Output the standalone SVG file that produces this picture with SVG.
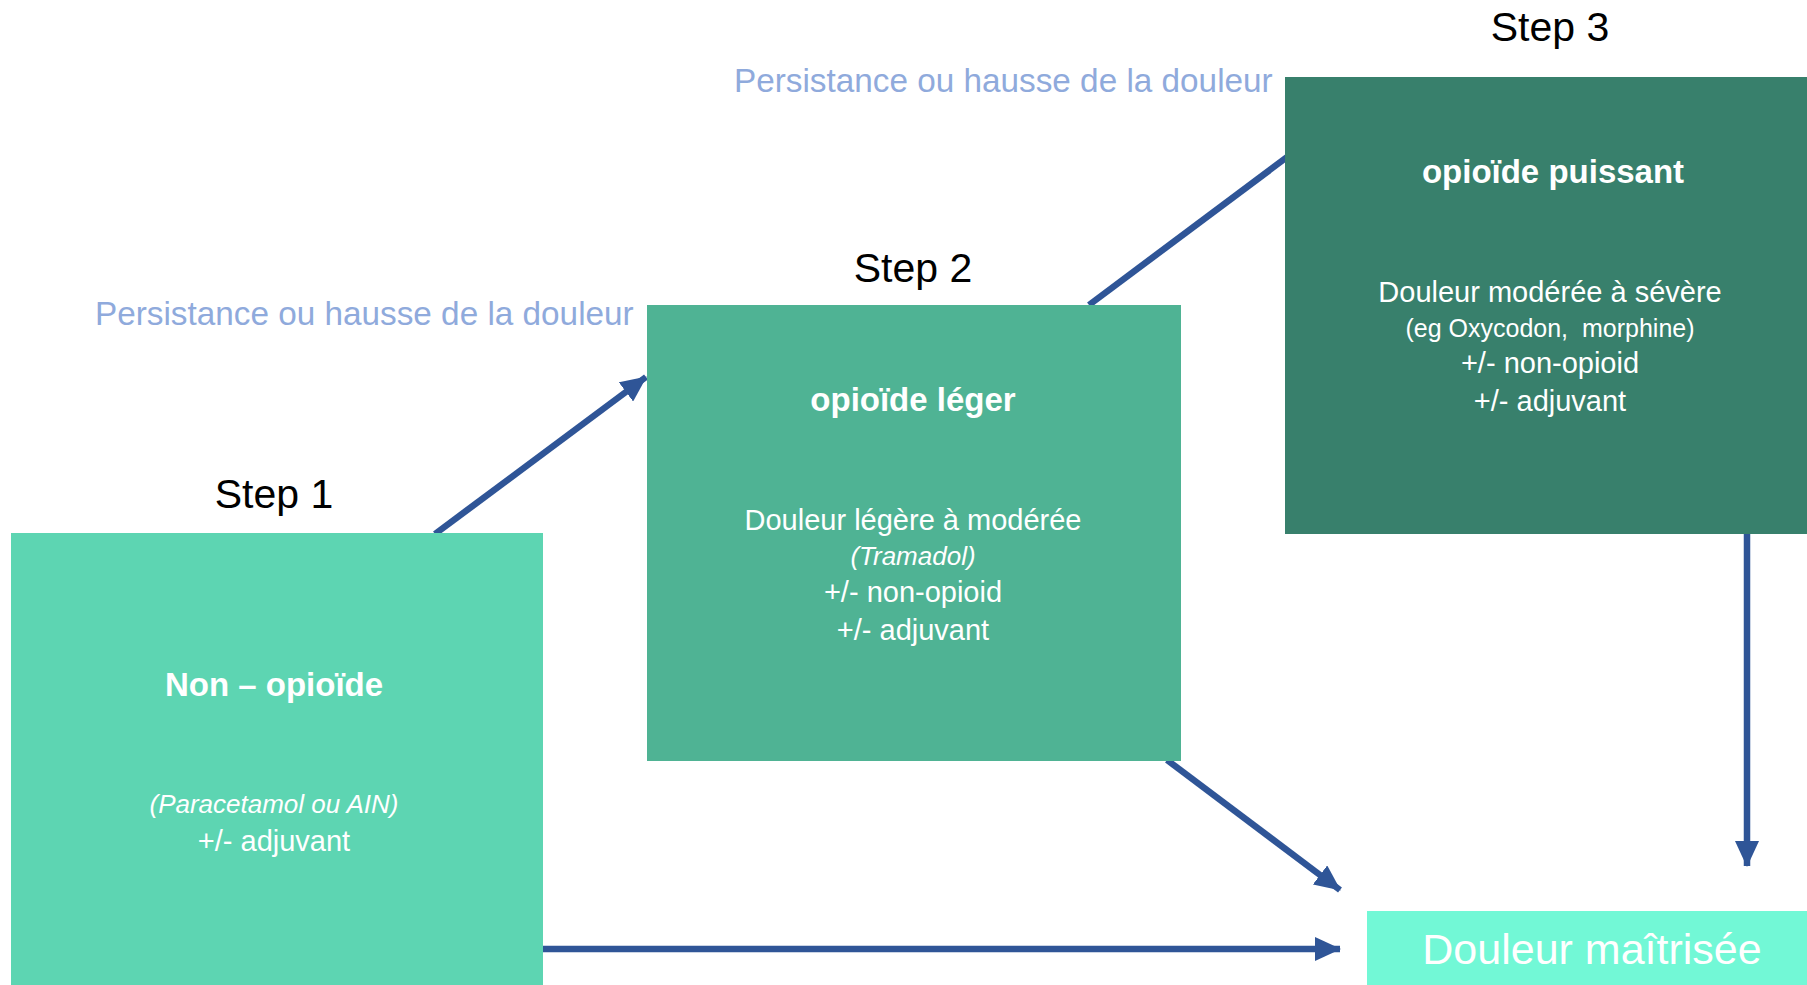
<svg xmlns="http://www.w3.org/2000/svg" width="1807" height="985" viewBox="0 0 1807 985">
<defs>
<style>
text{font-family:"Liberation Sans",Arial,sans-serif;text-anchor:middle}
.step{font-size:41px;fill:#000}
.note{font-size:33.3px;fill:#8FAADC;text-anchor:start}
.title{font-size:33px;font-weight:bold;fill:#fff}
.body{font-size:29px;fill:#fff}
.ital{font-size:26px;font-style:italic;fill:#fff}
.small{font-size:25px;fill:#fff}
.conn{stroke:#2F5597;stroke-width:6.5;fill:none;marker-end:url(#ah)}
</style>
<marker id="ah" markerUnits="userSpaceOnUse" markerWidth="26" markerHeight="24" refX="25" refY="12" orient="auto">
<path d="M0,0 L26,12 L0,24 z" fill="#2F5597"/>
</marker>
</defs>
<rect width="1807" height="985" fill="#fff"/>
<g id="connectors">
<line class="conn" x1="435" y1="534" x2="646" y2="377"/>
<line class="conn" x1="1089" y1="305" x2="1330" y2="125"/>
<line class="conn" x1="1167" y1="760" x2="1340" y2="890"/>
<line class="conn" x1="543" y1="949" x2="1340" y2="949"/>
<line class="conn" x1="1747" y1="534" x2="1747" y2="866"/>
</g>
<g id="labels">
<text class="step" x="274" y="508">Step 1</text>
<text class="step" x="913" y="282">Step 2</text>
<text class="step" x="1550" y="41">Step 3</text>
<text class="note" x="95" y="325">Persistance ou hausse de la douleur</text>
<text class="note" x="734" y="92">Persistance ou hausse de la douleur</text>
</g>
<g id="step1">
<rect x="11" y="533" width="532" height="452" fill="#5DD5B2"/>
<text class="title" x="274" y="696">Non – opioïde</text>
<text class="ital" x="274" y="813">(Paracetamol ou AIN)</text>
<text class="body" x="274" y="851">+/- adjuvant</text>
</g>
<g id="step2">
<rect x="647" y="305" width="534" height="456" fill="#4FB394"/>
<text class="title" x="913" y="411">opioïde léger</text>
<text class="body" x="913" y="530">Douleur légère à modérée</text>
<text class="ital" x="913" y="565">(Tramadol)</text>
<text class="body" x="913" y="602">+/- non-opioid</text>
<text class="body" x="913" y="640">+/- adjuvant</text>
</g>
<g id="step3">
<rect x="1285" y="77" width="522" height="457" fill="#38806C"/>
<text class="title" x="1553" y="183">opioïde puissant</text>
<text class="body" x="1550" y="302">Douleur modérée à sévère</text>
<text class="small" x="1550" y="337">(eg Oxycodon,&#160; morphine)</text>
<text class="body" x="1550" y="373">+/- non-opioid</text>
<text class="body" x="1550" y="411">+/- adjuvant</text>
</g>
<g id="result">
<rect x="1367" y="911" width="440" height="74" fill="#72F8D6"/>
<text x="1592" y="964" font-size="43" fill="#fff">Douleur maîtrisée</text>
</g>
</svg>
